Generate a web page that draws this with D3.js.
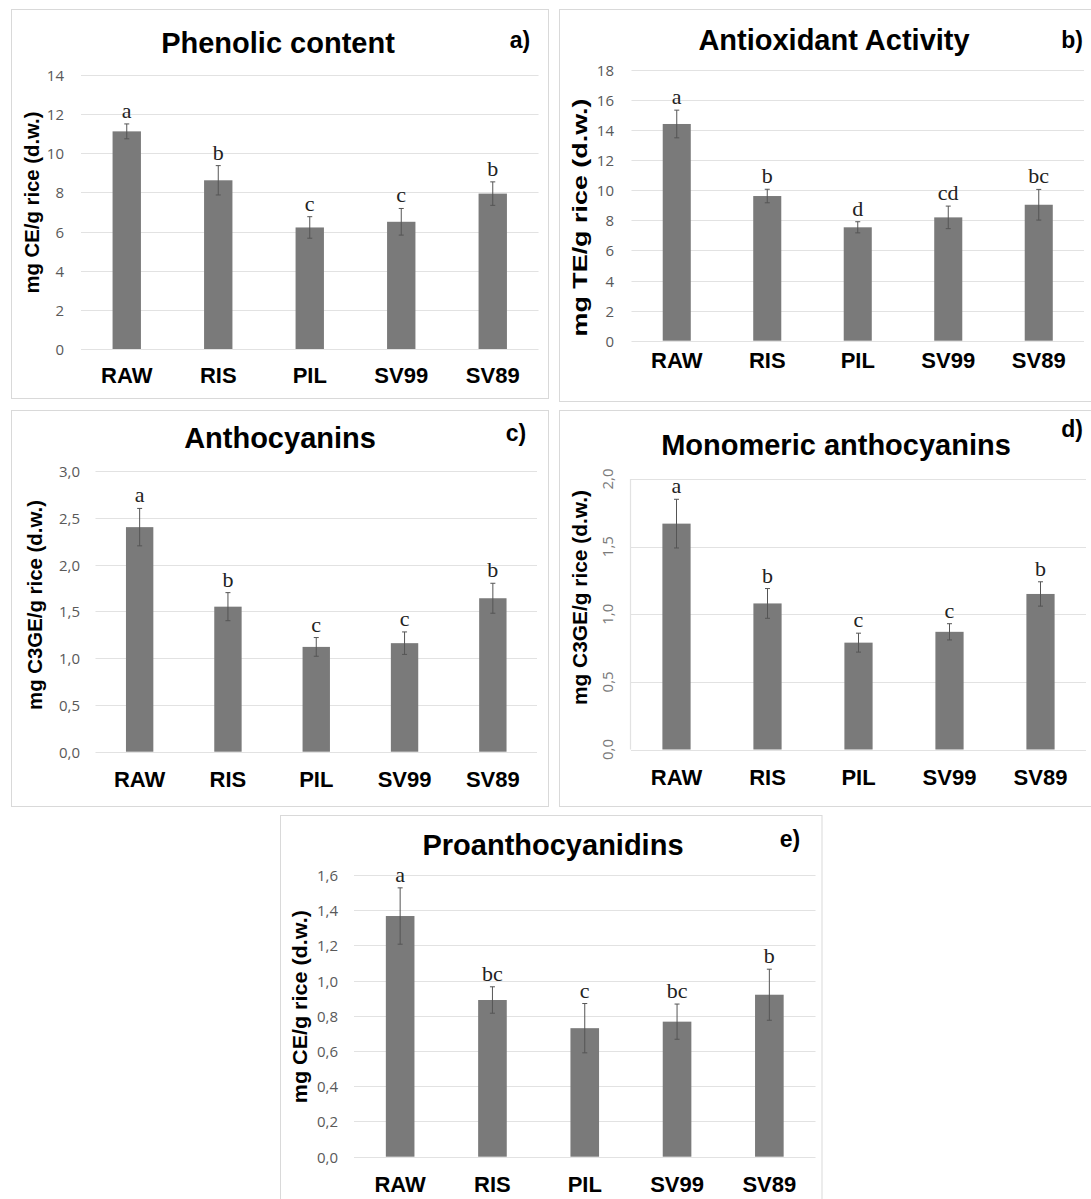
<!DOCTYPE html>
<html>
<head>
<meta charset="utf-8">
<script src="https://cdn.jsdelivr.net/npm/d3@7/dist/d3.min.js"></script>
<style>
  html, body { margin: 0; padding: 0; background: #ffffff; }
  svg { display: block; }
</style>
</head>
<body>
<svg id="chart" width="1091" height="1199"></svg>
<script>
// ---------------- DATA ----------------
const categories = ["RAW", "RIS", "PIL", "SV99", "SV89"];

const phenolicValues  = [11.12, 8.62, 6.21, 6.50, 7.94];
const phenolicErrors  = [0.38, 0.75, 0.55, 0.68, 0.60];
const phenolicLetters = ["a", "b", "c", "c", "b"];
const phenolicTicks   = ["0", "2", "4", "6", "8", "10", "12", "14"];

const antioxValues  = [14.41, 9.62, 7.54, 8.20, 9.04];
const antioxErrors  = [0.92, 0.45, 0.37, 0.75, 1.02];
const antioxLetters = ["a", "b", "d", "cd", "bc"];
const antioxTicks   = ["0", "2", "4", "6", "8", "10", "12", "14", "16", "18"];

const anthoValues  = [2.40, 1.55, 1.12, 1.16, 1.64];
const anthoErrors  = [0.20, 0.15, 0.10, 0.12, 0.16];
const anthoLetters = ["a", "b", "c", "c", "b"];
const anthoTicks   = ["0,0", "0,5", "1,0", "1,5", "2,0", "2,5", "3,0"];

const monoValues  = [1.67, 1.08, 0.79, 0.87, 1.15];
const monoErrors  = [0.18, 0.11, 0.07, 0.06, 0.09];
const monoLetters = ["a", "b", "c", "c", "b"];
const monoTicks   = ["0,0", "0,5", "1,0", "1,5", "2,0"];

const proValues  = [1.367, 0.89, 0.73, 0.767, 0.92];
const proErrors  = [0.16, 0.075, 0.14, 0.10, 0.145];
const proLetters = ["a", "bc", "c", "bc", "b"];
const proTicks   = ["0,0", "0,2", "0,4", "0,6", "0,8", "1,0", "1,2", "1,4", "1,6"];

// ---------------- LAYOUT ----------------
const svg = d3.select("#chart");
const parseTick = s => +s.replace(",", ".");

const panels = [
  { title: "Phenolic content", tag: "a)", ylabel: "mg CE/g rice (d.w.)",
    values: phenolicValues, errors: phenolicErrors, letters: phenolicLetters, ticks: phenolicTicks,
    box: [11.5, 9.5, 537, 389], xr: [81, 538.5], yr: [349, 75],
    titleX: 278, titleY: 53, tagX: 520, tagY: 48,
    ylX: 31.5, ylY: 202.5, ylLen: 182, tickX: 64, xlY: 383 },
  { title: "Antioxidant Activity", tag: "b)", ylabel: "mg TE/g rice (d.w.)",
    values: antioxValues, errors: antioxErrors, letters: antioxLetters, ticks: antioxTicks,
    box: [559.5, 9.5, 540, 392], xr: [631.5, 1084], yr: [340.7, 70],
    titleX: 834, titleY: 50, tagX: 1072, tagY: 48,
    ylX: 580, ylY: 217.5, ylLen: 238, tickX: 614, xlY: 368 },
  { title: "Anthocyanins", tag: "c)", ylabel: "mg C3GE/g rice (d.w.)",
    values: anthoValues, errors: anthoErrors, letters: anthoLetters, ticks: anthoTicks,
    box: [11.5, 410.5, 537, 396], xr: [95.5, 537], yr: [751.7, 471],
    titleX: 280, titleY: 448, tagX: 516, tagY: 441,
    ylX: 35, ylY: 605, ylLen: 210, tickX: 80, xlY: 787 },
  { title: "Monomeric anthocyanins", tag: "d)", ylabel: "mg C3GE/g rice (d.w.)",
    values: monoValues, errors: monoErrors, letters: monoLetters, ticks: monoTicks,
    box: [559.5, 410.5, 540, 396], xr: [631, 1086], yr: [749.5, 479],
    titleX: 836, titleY: 455, tagX: 1072, tagY: 437,
    ylX: 580, ylY: 597.5, ylLen: 215, tickX: 607, xlY: 785,
    rotatedTicks: true, axisLine: true },
  { title: "Proanthocyanidins", tag: "e)", ylabel: "mg CE/g rice (d.w.)",
    values: proValues, errors: proErrors, letters: proLetters, ticks: proTicks,
    box: [280.5, 815.5, 541.5, 400], xr: [354, 815.5], yr: [1156.7, 875],
    titleX: 553, titleY: 855, tagX: 790, tagY: 847,
    ylX: 300, ylY: 1006.7, ylLen: 193, tickX: 338, xlY: 1192 }
];

const barColor = "#7a7a7a";
const gridColor = "#e2e2e2";

panels.forEach(p => {
  const g = svg.append("g");

  // panel border
  g.append("rect")
    .attr("x", p.box[0]).attr("y", p.box[1])
    .attr("width", p.box[2]).attr("height", p.box[3])
    .attr("fill", "#ffffff").attr("stroke", "#d9d9d9").attr("stroke-width", 1);

  const tickVals = p.ticks.map(parseTick);
  const yMax = d3.max(tickVals);
  const y = d3.scaleLinear().domain([0, yMax]).range(p.yr);
  const x = d3.scaleBand().domain(categories).range(p.xr).padding(0);
  const bw = x.bandwidth() * 0.31;

  // gridlines
  g.append("g").selectAll("line").data(tickVals).join("line")
    .attr("x1", p.xr[0]).attr("x2", p.xr[1])
    .attr("y1", d => Math.round(y(d)) + 0.5).attr("y2", d => Math.round(y(d)) + 0.5)
    .attr("stroke", gridColor).attr("stroke-width", 1.2);

  if (p.axisLine) {
    g.append("line")
      .attr("x1", p.xr[0] - 0.5).attr("x2", p.xr[0] - 0.5)
      .attr("y1", y(yMax)).attr("y2", y(0))
      .attr("stroke", gridColor).attr("stroke-width", 1.2);
  }

  // y tick labels
  const tl = g.append("g").selectAll("text").data(p.ticks).join("text")
    .text(d => d)
    .attr("font-family", "'Open Sans', 'Liberation Sans', sans-serif")
    .attr("font-size", 15);
  if (p.rotatedTicks) {
    tl.attr("transform", d => `translate(${p.tickX},${y(parseTick(d))}) rotate(-90)`)
      .attr("text-anchor", "middle").attr("dominant-baseline", "central")
      .attr("fill", "#7a7a7a");
  } else {
    tl.attr("x", p.tickX).attr("y", d => y(parseTick(d)))
      .attr("text-anchor", "end").attr("dominant-baseline", "central")
      .attr("fill", "#595959");
  }

  // bars
  g.append("g").selectAll("rect").data(p.values).join("rect")
    .attr("x", (d, i) => x(categories[i]) + x.bandwidth() / 2 - bw / 2)
    .attr("y", d => y(d))
    .attr("width", bw)
    .attr("height", d => y(0) - y(d))
    .attr("fill", barColor);

  // error bars
  const eb = g.append("g").attr("stroke", "#555555").attr("stroke-width", 1);
  p.values.forEach((v, i) => {
    const cx = x(categories[i]) + x.bandwidth() / 2;
    const e = p.errors[i];
    eb.append("line").attr("x1", cx).attr("x2", cx).attr("y1", y(v + e)).attr("y2", y(v - e));
    eb.append("line").attr("x1", cx - 2.5).attr("x2", cx + 2.5).attr("y1", y(v + e)).attr("y2", y(v + e));
    eb.append("line").attr("x1", cx - 2.5).attr("x2", cx + 2.5).attr("y1", y(v - e)).attr("y2", y(v - e));
  });

  // significance letters
  g.append("g").selectAll("text").data(p.letters).join("text")
    .text(d => d)
    .attr("x", (d, i) => x(categories[i]) + x.bandwidth() / 2)
    .attr("y", (d, i) => y(p.values[i] + p.errors[i]) - 6)
    .attr("text-anchor", "middle")
    .attr("font-family", "'Liberation Serif', 'Times New Roman', serif")
    .attr("font-size", 22).attr("fill", "#222222");

  // x labels
  g.append("g").selectAll("text").data(categories).join("text")
    .text(d => d)
    .attr("x", d => x(d) + x.bandwidth() / 2)
    .attr("y", p.xlY)
    .attr("text-anchor", "middle")
    .attr("font-family", "'Liberation Sans', Arial, sans-serif")
    .attr("font-weight", "bold").attr("font-size", 22).attr("fill", "#000000");

  // title
  g.append("text").text(p.title)
    .attr("x", p.titleX).attr("y", p.titleY)
    .attr("text-anchor", "middle")
    .attr("font-family", "'Liberation Sans', Arial, sans-serif")
    .attr("font-weight", "bold").attr("font-size", 29).attr("fill", "#000000");

  // panel tag
  g.append("text").text(p.tag)
    .attr("x", p.tagX).attr("y", p.tagY)
    .attr("text-anchor", "middle")
    .attr("font-family", "'Liberation Sans', Arial, sans-serif")
    .attr("font-weight", "bold").attr("font-size", 23).attr("fill", "#000000");

  // y axis label
  g.append("text").text(p.ylabel)
    .attr("transform", `translate(${p.ylX},${p.ylY}) rotate(-90)`)
    .attr("text-anchor", "middle").attr("dominant-baseline", "central")
    .attr("textLength", p.ylLen).attr("lengthAdjust", "spacingAndGlyphs")
    .attr("font-family", "'Liberation Sans', Arial, sans-serif")
    .attr("font-weight", "bold").attr("font-size", 20).attr("fill", "#000000");
});
</script>
</body>
</html>
